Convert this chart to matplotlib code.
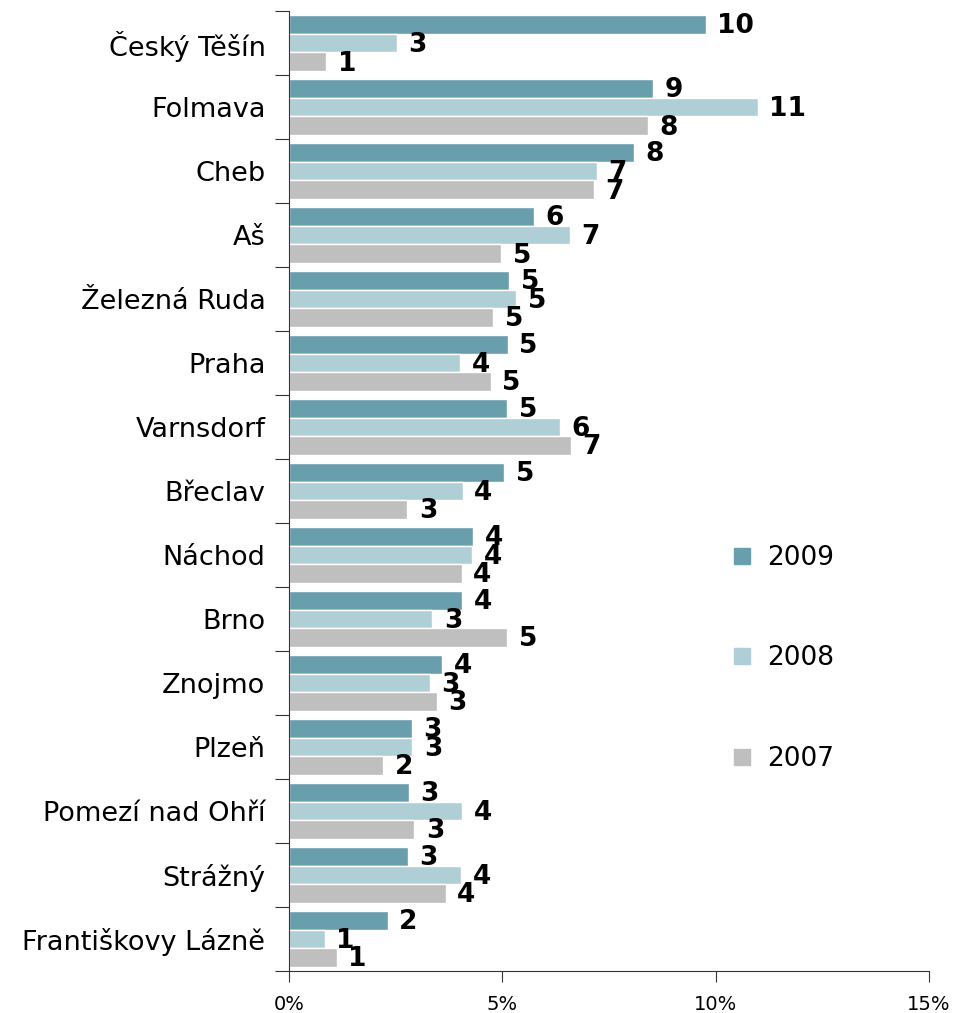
import numpy as np
import matplotlib
matplotlib.use('Agg')
import matplotlib.pyplot as plt
from matplotlib.lines import Line2D

# share of crossings per border point, %
places = ['Český Těšín', 'Folmava', 'Cheb', 'Aš', 'Železná Ruda', 'Praha',
          'Varnsdorf', 'Břeclav', 'Náchod', 'Brno', 'Znojmo', 'Plzeň',
          'Pomezí nad Ohří', 'Strážný', 'Františkovy Lázně']
v2009 = [9.77, 8.54, 8.09, 5.75, 5.16, 5.13, 5.11, 5.05, 4.32, 4.06, 3.59, 2.88, 2.81, 2.79, 2.31]
v2008 = [2.52, 10.98, 7.21, 6.59, 5.32, 4.01, 6.35, 4.07, 4.29, 3.36, 3.30, 2.89, 4.06, 4.04, 0.84]
v2007 = [0.87, 8.42, 7.15, 4.97, 4.79, 4.73, 6.61, 2.77, 4.05, 5.12, 3.46, 2.21, 2.94, 3.67, 1.12]
years = ['2009', '2008', '2007']
colors = ['#699FAC', '#B0CED5', '#BFBFBF']

plt.rcParams['font.family'] = ['DejaVu Sans']

fig = plt.figure(figsize=(9.56, 10.13), dpi=100)
ax = fig.add_axes([0.3023, 0.0415, 0.6695, 0.9476])

pos = np.arange(len(places))
h = 0.29
for k, (vals, col) in enumerate(zip([v2009, v2008, v2007], colors)):
    yy = pos + (k - 1) * h
    ax.barh(yy, vals, height=h, color=col, edgecolor='white', linewidth=1)
    for y, v in zip(yy, vals):
        ax.text(v + 0.27, y + 0.03, f'{v:.0f}', va='center', ha='left',
                fontsize=19, fontweight='heavy', color='black')

ax.set_xlim(0, 15)
ax.set_ylim(len(places) - 0.5, -0.5)
ax.set_xticks([0, 5, 10, 15])
ax.set_xticklabels(['0%', '5%', '10%', '15%'], fontsize=14)
ax.set_yticks(np.arange(len(places) + 1) - 0.5)
ax.set_yticklabels([])
ax.set_yticks(pos, minor=True)
ax.set_yticklabels(places, minor=True, fontsize=19.5)
ax.tick_params(axis='y', which='minor', length=0, pad=17)
ax.tick_params(axis='y', which='major', length=10, color='#333333')
ax.tick_params(axis='x', length=8, color='#333333', pad=9)
for s in ['top', 'right']:
    ax.spines[s].set_visible(False)
for s in ['left', 'bottom']:
    ax.spines[s].set_color('#333333')

handles = [Line2D([], [], marker='s', linestyle='none', markersize=11.5,
                  markerfacecolor=c, markeredgecolor=c) for c in colors]
fig.legend(handles, years, loc='center left', bbox_to_anchor=(0.749, 0.350),
           frameon=False, fontsize=19, labelspacing=2.82, handletextpad=0.45,
           handlelength=1.0, borderpad=0)

fig.savefig('out.png', dpi=100)
